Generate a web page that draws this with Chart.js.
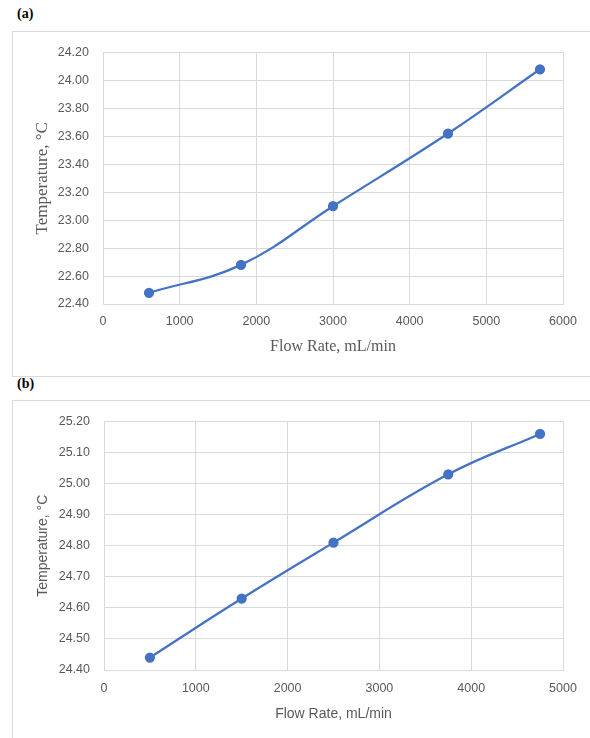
<!DOCTYPE html>
<html>
<head>
<meta charset="utf-8">
<script src="https://cdn.jsdelivr.net/npm/chart.js@4.4.1/dist/chart.umd.min.js"></script>
<style>
  html, body { margin: 0; padding: 0; background: #fff; width: 590px; height: 738px; overflow: hidden; position: relative; }
  .caixa { position: absolute; border: 1px solid #d9d9d9; box-sizing: border-box; }
  .rotulo { position: absolute; font: bold 14px "Liberation Serif", serif; color: #000; }
  canvas { position: absolute; left: 0; }
</style>
</head>
<body>
<div class="rotulo" style="left:17px; top:6px;">(a)</div>
<div class="caixa" style="left:12px; top:31px; width:620px; height:346px;"></div>
<canvas id="graficoA" width="590" height="345" style="top:31px;"></canvas>

<div class="rotulo" style="left:17px; top:376px;">(b)</div>
<div class="caixa" style="left:12px; top:400px; width:620px; height:400px;"></div>
<canvas id="graficoB" width="590" height="338" style="top:400px;"></canvas>

<script>
// --- Dados (a) ---
const vazaoA = [600, 1800, 3000, 4500, 5700];
const tempA = [22.48, 22.68, 23.10, 23.62, 24.08];

// --- Dados (b) ---
const vazaoB = [500, 1500, 2500, 3750, 4750];
const tempB = [24.44, 24.63, 24.81, 25.03, 25.16];

const azul = '#4472c4';
const grade = '#d9d9d9';
const cinza = '#595959';
const fonteTick = { family: '"Liberation Sans", Arial, sans-serif', size: 12.5 };

function montarGrafico(id, xs, ys, cfg) {
    const pontos = xs.map((x, i) => ({ x: x, y: ys[i] }));
    return new Chart(document.getElementById(id), {
        type: 'line',
        data: {
            datasets: [{
                data: pontos,
                borderColor: azul,
                backgroundColor: azul,
                borderWidth: 2.25,
                pointRadius: 4,
                pointHoverRadius: 4,
                tension: 0.4
            }]
        },
        options: {
            responsive: false,
            animation: false,
            layout: { padding: { left: 0, top: cfg.topo, right: 27, bottom: 0 } },
            plugins: { legend: { display: false }, tooltip: { enabled: false } },
            scales: {
                x: {
                    type: 'linear',
                    min: 0, max: cfg.xMax,
                    ticks: { stepSize: 1000, color: cinza, font: fonteTick, padding: cfg.padX,
                             callback: v => String(v) },
                    grid: { color: grade, drawTicks: false },
                    border: { color: grade },
                    title: { display: true, text: 'Flow Rate, mL/min', color: cinza,
                             font: cfg.fonteTitulo, padding: { top: 0, bottom: cfg.titX } },
                    afterFit: s => { s.height = cfg.altX; }
                },
                y: {
                    min: cfg.yMin, max: cfg.yMax,
                    ticks: { stepSize: cfg.passoY, color: cinza, font: fonteTick, padding: 14,
                             callback: v => v.toFixed(2) },
                    grid: { color: grade, drawTicks: false },
                    border: { color: grade },
                    title: { display: true, text: 'Temperature, °C', color: cinza,
                             font: cfg.fonteTituloY, padding: { top: cfg.titY, bottom: 0 } },
                    afterFit: s => { s.width = cfg.largY; }
                }
            }
        }
    });
}

montarGrafico('graficoA', vazaoA, tempA, {
    topo: 17, xMax: 6000, yMin: 22.4, yMax: 24.2, passoY: 0.2,
    padX: 10, altX: 72, largY: 103, titX: 20, titY: 32,
    fonteTitulo: { family: '"Liberation Serif", serif', size: 16 },
    fonteTituloY: { family: '"Liberation Serif", serif', size: 17 }
});

montarGrafico('graficoB', vazaoB, tempB, {
    topo: 16, xMax: 5000, yMin: 24.4, yMax: 25.2, passoY: 0.1,
    padX: 11, altX: 68, largY: 104, titX: 15, titY: 35,
    fonteTitulo: { family: '"Liberation Sans", Arial, sans-serif', size: 14 },
    fonteTituloY: { family: '"Liberation Sans", Arial, sans-serif', size: 14 }
});
</script>
</body>
</html>
